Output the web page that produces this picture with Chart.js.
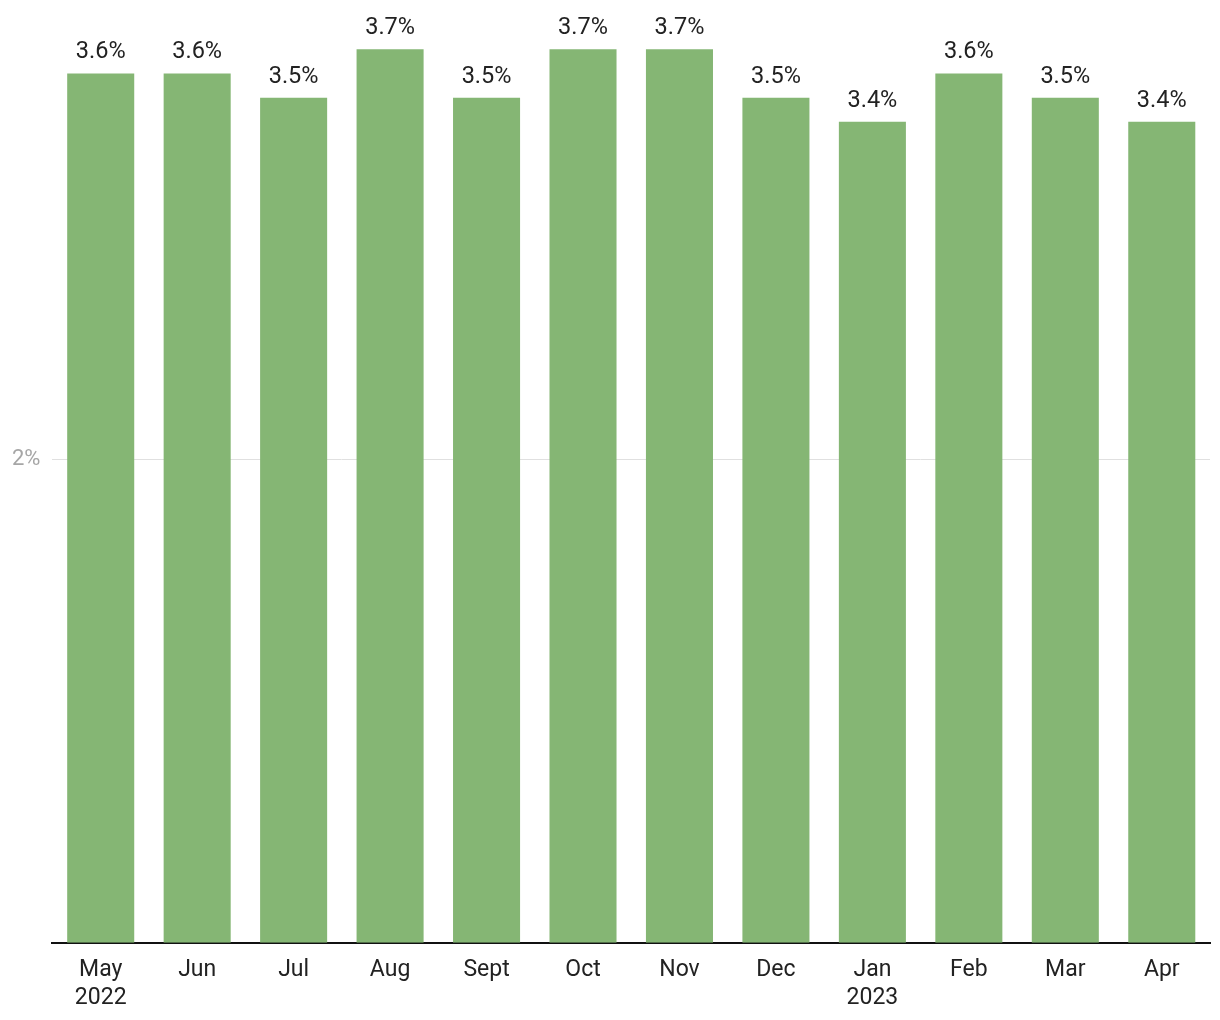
<!DOCTYPE html>
<html lang="en">
<head>
<meta charset="UTF-8">
<title>Monthly rate</title>
<script src="https://cdn.jsdelivr.net/npm/chart.js"></script>
<style>
    body { margin: 0; background: #fff; font-family: Roboto, sans-serif; }
    #wrap { width: 1220px; height: 1020px; position: relative; }
</style>
</head>
<body>
<div id="wrap"><canvas id="chart"></canvas></div>
<script>
    // Data
    const months = [['May', '2022'], 'Jun', 'Jul', 'Aug', 'Sept', 'Oct', 'Nov', 'Dec', ['Jan', '2023'], 'Feb', 'Mar', 'Apr'];
    const rates = [3.6, 3.6, 3.5, 3.7, 3.5, 3.7, 3.7, 3.5, 3.4, 3.6, 3.5, 3.4];
    const yTicks = [2];

    // Draw value labels above each bar
    const barLabels = {
        id: 'barLabels',
        afterDatasetsDraw(chart) {
            const ctx = chart.ctx;
            const meta = chart.getDatasetMeta(0);
            ctx.save();
            ctx.font = '23.5px Roboto';
            ctx.fillStyle = '#222';
            ctx.textAlign = 'center';
            ctx.textBaseline = 'alphabetic';
            meta.data.forEach((bar, i) => {
                ctx.fillText(rates[i].toFixed(1) + '%', bar.x, bar.y - 15);
            });
            ctx.restore();
        }
    };

    new Chart(document.getElementById('chart'), {
        type: 'bar',
        data: {
            labels: months,
            datasets: [{
                data: rates,
                backgroundColor: '#85b674',
                categoryPercentage: 0.695,
                barPercentage: 1
            }]
        },
        options: {
            responsive: true,
            maintainAspectRatio: false,
            animation: false,
            layout: { padding: { top: 0, right: 10, bottom: -6, left: 0 } },
            plugins: { legend: { display: false }, tooltip: { enabled: false } },
            scales: {
                x: {
                    grid: { display: false, drawTicks: false },
                    border: { color: '#111', width: 2 },
                    ticks: { color: '#222', font: { family: 'Roboto', size: 23, lineHeight: 1.2 }, padding: 14, maxRotation: 0 }
                },
                y: {
                    min: 0,
                    max: 3.8,
                    afterBuildTicks(scale) { scale.ticks = yTicks.map(v => ({ value: v })); },
                    grid: { color: '#e0e0e0', drawTicks: false },
                    border: { display: false },
                    ticks: {
                        color: '#a6a6a6',
                        font: { family: 'Roboto', size: 22 },
                        padding: 12,
                        callback: v => v + '%'
                    }
                }
            }
        },
        plugins: [barLabels]
    });
</script>
</body>
</html>
